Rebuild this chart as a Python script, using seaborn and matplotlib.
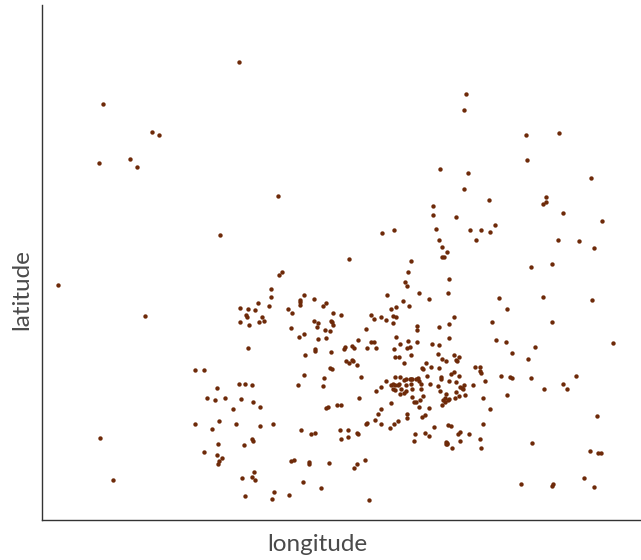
import pandas as pd
import matplotlib
matplotlib.use("Agg")
import matplotlib.pyplot as plt
import seaborn as sns

# values (no tick labels, so units are arbitrary)
longitude = [
    239, 103, 152, 159, 99, 130, 137, 440, 466, 464, 526, 559, 527, 468, 591,
    220, 58, 145, 240, 248, 246, 247, 240, 249, 248,
    278, 433, 433, 436, 382, 394, 439, 442, 447, 442, 444, 349,
    411, 282, 279, 408, 449, 405, 407, 271, 271, 304, 300, 300,
    300, 314, 387, 419, 429, 448, 403, 258, 269, 255, 288, 292,
    323, 326, 396, 409, 391, 262, 333, 341, 371, 374, 381, 386,
    393, 396, 393, 259, 264, 314, 318, 317, 331, 332, 333, 291,
    325, 330, 366, 417, 417, 439, 449, 304, 299, 318, 326, 396,
    358, 371, 374, 408, 400, 417, 432, 439, 449, 345, 344, 352,
    354, 367, 376, 394, 407, 410, 315,
    464, 489, 546, 546, 543, 563, 602, 456, 470, 481, 490, 495,
    476, 558, 579, 594, 531, 552, 499, 543, 592, 507, 454, 492,
    552, 496, 506, 535, 613,
    305, 315, 331, 195, 204, 330, 332, 304, 324, 298, 323, 217,
    239, 245, 252, 207, 215, 225, 241, 253, 260, 326, 328, 233,
    219, 195, 212, 236, 260, 273, 301, 311, 315, 100, 218, 244,
    252, 253, 204, 217, 222, 219, 218, 291, 294, 309, 309, 329,
    113, 254, 242, 252, 255, 303, 321, 274, 289, 245, 272,
    346, 349, 352, 353, 357, 395, 399, 404, 361, 395, 400, 404,
    386, 381, 376, 391, 393, 395, 398, 399, 393, 395, 401, 400,
    404, 359, 337, 341, 391, 381, 378, 375, 366, 367, 381, 398,
    394, 390, 340, 348, 357, 358, 348, 341,
    411, 438, 442, 446, 454, 456, 457, 459, 426, 422, 423, 431,
    439, 475, 480, 480, 481, 427, 451, 454, 459, 441, 441, 406,
    410, 411, 412, 416, 418, 419, 485, 406, 411, 421, 430, 438,
    449, 456, 421, 412, 406, 440, 446, 460, 462, 463, 464, 456,
    473, 412, 423, 420, 416, 414, 445, 443, 445, 448, 449, 455,
    459, 465, 483, 442, 419, 429, 490, 407, 407, 425, 422, 434,
    448, 451, 483, 415, 425, 429, 458, 460, 469, 414, 446, 447,
    447, 446, 460, 480, 452, 481,
    365, 357, 354, 369,
    512, 528, 501, 510, 512, 531, 576, 563, 567, 544, 507, 597,
    532, 590, 598, 601, 584, 594, 521, 553, 552,
]
latitude = [
    458, 416, 388, 385, 357, 361, 353, 351, 426, 410, 385, 387, 360, 347, 342,
    285, 235, 204, 212, 211, 205, 203, 198, 195, 172,
    324, 314, 305, 291, 287, 290, 280, 273, 268, 263, 263, 261,
    259, 248, 245, 248, 241, 238, 234, 231, 223, 225, 220, 218,
    215, 221, 225, 227, 221, 227, 219, 217, 214, 210, 211, 207,
    214, 217, 213, 214, 211, 203, 207, 205, 205, 201, 203, 200,
    204, 203, 197, 198, 199, 199, 197, 193, 199, 198, 195, 192,
    190, 189, 191, 194, 190, 193, 196, 186, 183, 181, 182, 183,
    180, 178, 178, 179, 176, 178, 176, 175, 182, 173, 171, 174,
    172, 172, 172, 171, 172, 173, 171,
    331, 320, 323, 318, 316, 307, 299, 303, 290, 290, 288, 295,
    280, 280, 279, 272, 253, 256, 222, 223, 220, 211, 203, 198,
    198, 180, 178, 173, 177,
    165, 169, 168, 150, 150, 152, 151, 145, 142, 135, 134, 132,
    136, 136, 135, 122, 120, 122, 121, 118, 113, 112, 113, 111,
    99, 96, 91, 96, 94, 96, 90, 86, 87, 82, 76, 75,
    81, 79, 68, 65, 62, 59, 56, 59, 60, 58, 56, 57,
    40, 48, 42, 43, 40, 38, 32, 28, 25, 24, 21,
    159, 157, 160, 159, 155, 163, 163, 157, 143, 143, 143, 140,
    139, 133, 129, 135, 136, 135, 135, 136, 131, 130, 131, 126,
    127, 122, 115, 115, 117, 111, 106, 100, 96, 97, 96, 99,
    96, 92, 90, 90, 87, 86, 83, 81,
    165, 166, 161, 159, 165, 160, 159, 163, 157, 152, 151, 153,
    152, 153, 153, 149, 147, 144, 146, 148, 144, 143, 141, 141,
    141, 141, 141, 141, 142, 139, 139, 135, 136, 136, 136, 134,
    139, 138, 131, 131, 129, 129, 126, 133, 132, 131, 135, 128,
    135, 123, 124, 120, 118, 118, 122, 120, 118, 120, 121, 122,
    124, 125, 122, 115, 113, 112, 111, 106, 102, 105, 103, 93,
    95, 94, 96, 86, 87, 84, 86, 88, 86, 79, 78, 77,
    76, 76, 79, 81, 72, 72,
    60, 56, 52, 20,
    167, 161, 144, 143, 142, 142, 144, 136, 131, 131, 125, 104,
    77, 69, 67, 67, 42, 33, 36, 36, 34,
]

df = pd.DataFrame({"longitude": longitude, "latitude": latitude})

sns.set_style("white")
plt.rcParams["font.family"] = ["Lato", "DejaVu Sans"]

fig = plt.figure(figsize=(6.41, 5.6), dpi=100)
ax = fig.add_axes([42 / 641, 40 / 560, 1 - 42 / 641, 515 / 560])

sns.scatterplot(data=df, x="longitude", y="latitude", ax=ax,
                color="#6e2a09", s=10, linewidth=0)

ax.set_xlim(42, 641)
ax.set_ylim(0, 515)
ax.set_xticks([])
ax.set_yticks([])
sns.despine(ax=ax)
for side in ["left", "bottom"]:
    ax.spines[side].set_color("#333333")
    ax.spines[side].set_linewidth(1.0)

ax.set_xlabel("longitude", fontsize=17.5, color="#4a4a4a")
ax.set_ylabel("latitude", fontsize=17.5, color="#4a4a4a")
# labels sit a little off-centre in the reference
ax.xaxis.set_label_coords(0.459, -0.027)
ax.yaxis.set_label_coords(-0.017, 0.447)

fig.savefig("out.png", dpi=100)
